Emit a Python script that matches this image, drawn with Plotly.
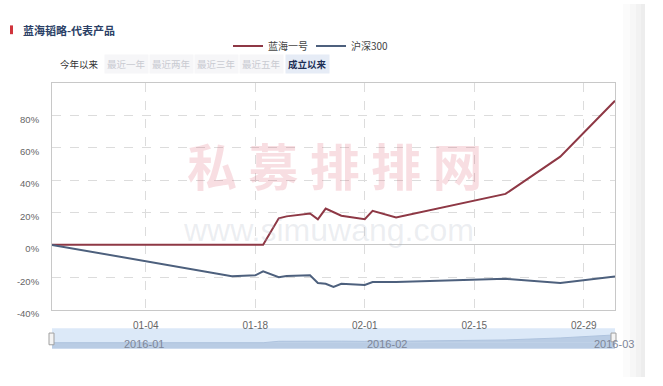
import plotly.graph_objects as go

# ---------------- data ----------------
dates = ["2015-12-23", "2016-01-15", "2016-01-18", "2016-01-19", "2016-01-21",
         "2016-01-22", "2016-01-25", "2016-01-26", "2016-01-27", "2016-01-28",
         "2016-01-29", "2016-02-01", "2016-02-02", "2016-02-05", "2016-02-19",
         "2016-02-26", "2016-03-04"]
lanhai = [0, 0, 0, 0, 16.4, 17.6, 19.4, 15.8, 22.4, 20.0, 18.0, 15.8, 21.0,
          17.0, 31.5, 54.5, 89.0]
hs300 = [0, -19.4, -18.8, -16.4, -20.0, -19.2, -18.8, -23.6, -24.0, -26.0,
         -24.0, -24.8, -23.0, -22.9, -21.0, -23.5, -19.5]
series_names = ["蓝海一号", "沪深300"]
x_ticks = ["2016-01-04", "2016-01-18", "2016-02-01", "2016-02-15", "2016-02-29"]
y_ticks = [-40, -20, 0, 20, 40, 60, 80, 100]
y_ticktext = ["-40%", "-20%", "0%", "20%", "40%", "60%", "80%", ""]
nav_months = ["2016-01-01", "2016-02-01", "2016-03-01"]
nav_labels = ["2016-01", "2016-02", "2016-03"]
buttons = ["今年以来", "最近一年", "最近两年", "最近三年", "最近五年", "成立以来"]
title_text = "蓝海韬略-代表产品"

W, H = 663, 386
def px(x):
    return x / W
def py(y):
    return 1 - y / H

CJK = "Noto Sans CJK SC"
LAT = "Liberation Sans"

fig = go.Figure()

fig.add_trace(go.Scatter(x=dates, y=lanhai, name=series_names[0], mode="lines",
                         line=dict(color="#8e3845", width=2), xaxis="x", yaxis="y"))
fig.add_trace(go.Scatter(x=dates, y=hs300, name=series_names[1], mode="lines",
                         line=dict(color="#4d607d", width=2), xaxis="x", yaxis="y"))
# navigator mini series
fig.add_trace(go.Scatter(x=dates, y=lanhai, mode="lines", fill="tozeroy",
                         fillcolor="#b9cce4", line=dict(color="#aec3de", width=1),
                         showlegend=False, hoverinfo="skip", xaxis="x2", yaxis="y2"))

xr = ["2015-12-23", "2016-03-04"]
fig.update_layout(
    width=W, height=H,
    margin=dict(l=0, r=0, t=0, b=0),
    paper_bgcolor="white", plot_bgcolor="white",
    showlegend=True,
    legend=dict(orientation="h", x=px(228), y=py(47), xanchor="left", yanchor="middle",
                font=dict(family=CJK, size=10, color="#444"), itemwidth=30,
                entrywidth=38, entrywidthmode="pixels",
                bgcolor="rgba(0,0,0,0)", tracegroupgap=0),
    xaxis=dict(domain=[px(52), px(615)], range=xr, type="date",
               tickvals=x_ticks, tickformat="%m-%d",
               tickfont=dict(family=LAT, size=10, color="#666"),
               showgrid=True, gridcolor="#dcdcdc", griddash="dash", gridwidth=1,
               showline=True, linecolor="#c8c8c8", linewidth=1, mirror=True,
               ticks="", ticklabelstandoff=6, zeroline=False, anchor="y"),
    yaxis=dict(domain=[py(317), py(85)], range=[-40, 100],
               tickvals=y_ticks, ticktext=y_ticktext,
               tickfont=dict(family=LAT, size=9.5, color="#666"),
               showgrid=True, gridcolor="#dcdcdc", griddash="dash", gridwidth=1,
               zeroline=True, zerolinecolor="#c8c8c8", zerolinewidth=1,
               showline=True, linecolor="#c8c8c8", linewidth=1, mirror=True,
               ticks="", ticklabelstandoff=10, ticklabelshift=4, anchor="x"),
    xaxis2=dict(domain=[px(52), px(615)], range=xr, type="date",
                showticklabels=False, showgrid=False, zeroline=False,
                showline=False, anchor="y2"),
    yaxis2=dict(domain=[py(357), py(336)], range=[-68, 166],
                showticklabels=False, showgrid=False, zeroline=False,
                showline=False, anchor="x2"),
)

shapes = []
# navigator background and bottom band
shapes.append(dict(type="rect", xref="x2 domain", yref="y2 domain", x0=0, x1=1, y0=0, y1=1,
                   fillcolor="#dce9f8", line=dict(width=0), layer="below"))
shapes.append(dict(type="rect", xref="x2 domain", yref="y2", x0=0, x1=1, y0=-68, y1=0,
                   fillcolor="#b9cce4", line=dict(width=0), layer="below"))
# navigator handles
shapes.append(dict(type="rect", xref="paper", yref="paper", x0=px(49), x1=px(54),
                   y0=py(353), y1=py(341), fillcolor="#f4f4f4",
                   line=dict(color="#a0a0a0", width=1)))
shapes.append(dict(type="rect", xref="paper", yref="paper", x0=px(611), x1=px(616),
                   y0=py(350), y1=py(341), fillcolor="#f4f4f4",
                   line=dict(color="#a0a0a0", width=1)))
# title red bar
shapes.append(dict(type="rect", xref="paper", yref="paper", x0=px(10), x1=px(13),
                   y0=py(35), y1=py(26), fillcolor="#d0343c", line=dict(width=0)))
# right-side shadow strip
for x0, c in [(623, "#fbfbfb"), (630, "#f7f7f7"), (636, "#f2f2f2"), (641, "#ededed")]:
    shapes.append(dict(type="rect", xref="paper", yref="paper", x0=px(x0), x1=px(645),
                       y0=0, y1=py(4), fillcolor=c, line=dict(width=0), layer="below"))
fig.update_layout(shapes=shapes)

ann = []
# title
ann.append(dict(text="<b>" + title_text + "</b>", xref="paper", yref="paper",
                x=px(21), y=py(30.5), xanchor="left", yanchor="middle", showarrow=False,
                font=dict(family=CJK, size=11, color="#2b3f66")))
# range buttons
btn_x = [57, 104, 149, 194, 239, 285]
for i, (b, bx) in enumerate(zip(buttons, btn_x)):
    if i == 0:
        col, bg, txt = "#333", "rgba(0,0,0,0)", b
    elif i == len(buttons) - 1:
        col, bg, txt = "#1d2f55", "#e6ecf6", "<b>" + b + "</b>"
    else:
        col, bg, txt = "#c9cbd2", "#f6f6f8", b
    ann.append(dict(text=txt, xref="paper", yref="paper", x=px(bx), y=py(66),
                    xanchor="left", yanchor="middle", showarrow=False, bgcolor=bg,
                    borderpad=2, font=dict(family=CJK, size=9.5, color=col)))
# watermark
ann.append(dict(text="<b>私 募 排 排 网</b>", xref="paper", yref="paper", x=px(334), y=py(168),
                xanchor="center", yanchor="middle", showarrow=False,
                font=dict(family=CJK, size=50, color="rgba(215,60,85,0.17)")))
ann.append(dict(text="www.simuwang.com", xref="paper", yref="paper", x=px(328), y=py(236),
                xanchor="center", yanchor="middle", showarrow=False,
                font=dict(family=LAT, size=32, color="rgba(170,178,195,0.22)")))
# navigator month labels
for d, lab in zip(nav_months, nav_labels):
    ann.append(dict(text=lab, xref="x2", yref="paper", x=d, y=py(352),
                    xanchor="left", yanchor="middle", showarrow=False,
                    font=dict(family=LAT, size=11, color="#7d8698")))
fig.update_layout(annotations=ann)

fig.write_html("out.html", config={"displayModeBar": False},
               post_script="document.body.style.margin='0px';document.body.style.overflow='hidden';")
